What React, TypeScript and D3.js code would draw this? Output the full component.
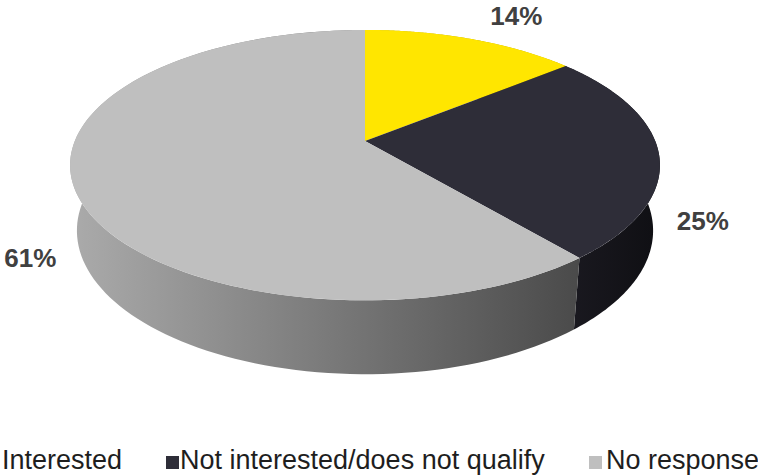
import React from "react";
import * as d3 from "d3";

const categories = ["Interested", "Not interested/does not qualify", "No response"];
const values = [14, 25, 61];
const valueLabels = ["14%", "25%", "61%"];

const W = 758;
const H = 475;

// colours
const topColors = ["#ffe600", "#2e2d38", "#bfbfbf"];
const sideFrom = ["#c9b400", "#1a1920", "#ababab"];
const sideTo = ["#b3a000", "#0f0f13", "#4a4a4a"];
const legendColors = ["#ffe600", "#2e2d38", "#bfbfbf"];

// 3D projection parameters
const cx = 365;
const cy = 141;
const focal = 1451;
const camDist = 5;
const sinT = 0.451;
const cosT = Math.sqrt(1 - sinT * sinT);
const depthH = 0.255;

function project(X: number, Y: number, Z: number): [number, number] {
  const depth = camDist - (Y * cosT + Z * sinT);
  const up = -Y * sinT + Z * cosT;
  return [cx + (focal * X) / depth, cy - (focal * up) / depth];
}

function rimPoint(a: number, z: number): [number, number] {
  return project(Math.sin(a), -Math.cos(a), z);
}

const labelNudge: [number, number][] = [
  [45, -23],
  [44, 67],
  [-44, 70],
];
const legendMarkerX = [-18, 166, 589];
const legendTextX = [2, 180, 606];

export default function App() {
  const pie = d3
    .pie<number>()
    .sort(null)
    .startAngle(0)
    .endAngle(2 * Math.PI);
  const arcs = pie(values);
  const line = d3.line();

  const sidePath = (a0: number, a1: number) => {
    const n = 120;
    const pts: [number, number][] = [];
    for (let i = 0; i <= n; i++) pts.push(rimPoint(a0 + ((a1 - a0) * i) / n, 0));
    for (let i = n; i >= 0; i--) pts.push(rimPoint(a0 + ((a1 - a0) * i) / n, -depthH));
    return line(pts) + "Z";
  };
  const topPath = (a0: number, a1: number) => {
    const n = 160;
    const pts: [number, number][] = [project(0, 0, 0)];
    for (let i = 0; i <= n; i++) pts.push(rimPoint(a0 + ((a1 - a0) * i) / n, 0));
    return line(pts) + "Z";
  };

  const xs = d3.range(0, 360).map((d) => rimPoint((d * Math.PI) / 180, 0)[0]);
  const xMin = d3.min(xs) as number;
  const xMax = d3.max(xs) as number;

  return (
    <svg
      width={W}
      height={H}
      style={{ position: "absolute", left: 0, top: 0, background: "#fff" }}
      fontFamily="'Liberation Sans', Arial, sans-serif"
    >
      <defs>
        {arcs.map((a, i) => {
          const xEnd = i === 2 ? rimPoint(a.startAngle, 0)[0] : xMax;
          const xStart = i === 2 ? xMin : rimPoint(a.startAngle, 0)[0];
          return (
            <linearGradient
              key={i}
              id={`side${i}`}
              gradientUnits="userSpaceOnUse"
              x1={xStart}
              x2={xEnd}
              y1={0}
              y2={0}
            >
              <stop offset="0" stopColor={sideFrom[i]} />
              <stop offset="1" stopColor={sideTo[i]} />
            </linearGradient>
          );
        })}
      </defs>
      {arcs.map((a, i) => (
        <path key={"s" + i} d={sidePath(a.startAngle, a.endAngle)} fill={`url(#side${i})`} />
      ))}
      {arcs.map((a, i) => (
        <path key={"t" + i} d={topPath(a.startAngle, a.endAngle)} fill={topColors[i]} />
      ))}
      {arcs.map((a, i) => {
        const mid = (a.startAngle + a.endAngle) / 2;
        const [ax, ay] = rimPoint(mid, 0);
        return (
          <text
            key={"l" + i}
            x={ax + labelNudge[i][0]}
            y={ay + labelNudge[i][1] + 9}
            textAnchor="middle"
            fontSize={26}
            fontWeight="bold"
            fill="#404040"
          >
            {valueLabels[i]}
          </text>
        );
      })}
      {categories.map((c, i) => (
        <g key={"g" + i}>
          <rect x={legendMarkerX[i]} y={456} width={13} height={13} fill={legendColors[i]} />
          <text x={legendTextX[i]} y={469} fontSize={27} fill="#1e1e1e">
            {c}
          </text>
        </g>
      ))}
    </svg>
  );
}
